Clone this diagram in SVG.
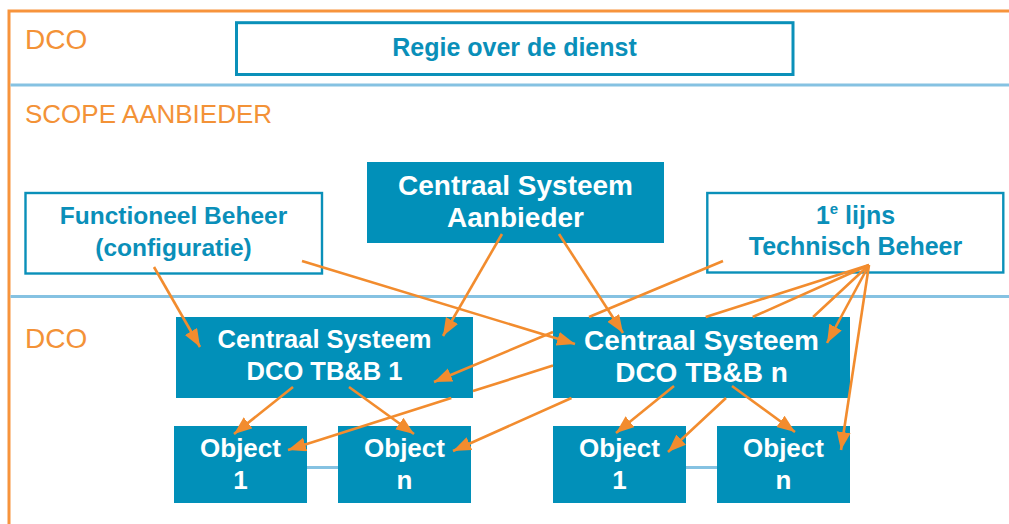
<svg xmlns="http://www.w3.org/2000/svg" width="1009" height="524" viewBox="0 0 1009 524">
<defs>
<style>
.frame{stroke:#f7943c;stroke-width:3;fill:none}
.sep{stroke:#85c2e2;stroke-width:3;fill:none}
.lbl{font-family:"Liberation Sans",Arial,sans-serif;fill:#f39237}
.obox{fill:#fff;stroke:#0a90b9}
.fbox{fill:#0190b9}
.bt{font-family:"Liberation Sans",Arial,sans-serif;font-weight:bold;fill:#0a8fb9;text-anchor:middle}
.wt{font-family:"Liberation Sans",Arial,sans-serif;font-weight:bold;fill:#fff;text-anchor:middle}
.arr{stroke:#f28c2e;stroke-width:2.6;fill:none;marker-end:url(#ah)}
.link{stroke:#85c2e2;stroke-width:3;fill:none}
</style>
<marker id="ah" markerUnits="userSpaceOnUse" markerWidth="20" markerHeight="16" refX="18" refY="7" orient="auto">
<path d="M0,0 L18,7 L0,14 z" fill="#f28c2e"/>
</marker>
</defs>
<rect width="1009" height="524" fill="#fff"/>
<g id="frame">
<path class="frame" d="M9,524 V11 H1009"/>
<path class="sep" d="M10.5,85 H1009"/>
<path class="sep" d="M10.5,296.5 H1009"/>
<text class="lbl" x="25" y="49" font-size="28">DCO</text>
<text class="lbl" x="25" y="123" font-size="26">SCOPE AANBIEDER</text>
<text class="lbl" x="25" y="348" font-size="28">DCO</text>
</g>
<g id="regie">
<rect class="obox" x="236.5" y="22.7" width="556.5" height="51.8" stroke-width="3"/>
<text class="bt" x="514.5" y="56" font-size="25">Regie over de dienst</text>
</g>
<g id="functioneel">
<rect class="obox" x="25.5" y="193" width="296.5" height="80.5" stroke-width="2.4"/>
<text class="bt" x="173.5" y="224" font-size="24.5">Functioneel Beheer</text>
<text class="bt" x="173.5" y="256" font-size="24.5">(configuratie)</text>
</g>
<g id="aanbieder">
<rect class="fbox" x="367" y="162" width="297" height="81"/>
<text class="wt" x="515.5" y="195" font-size="28">Centraal Systeem</text>
<text class="wt" x="515.5" y="227" font-size="28">Aanbieder</text>
</g>
<g id="technisch">
<rect class="obox" x="707.3" y="193" width="296" height="79.5" stroke-width="2.4"/>
<text class="bt" x="855.5" y="224" font-size="25">1<tspan font-size="15" dy="-10">e</tspan><tspan dy="10"> lijns</tspan></text>
<text class="bt" x="855.5" y="255" font-size="25">Technisch Beheer</text>
</g>
<g id="dco1">
<rect class="fbox" x="176" y="317" width="297" height="81"/>
<text class="wt" x="324.5" y="348" font-size="25.5">Centraal Systeem</text>
<text class="wt" x="324.5" y="380" font-size="25.5">DCO TB&amp;B 1</text>
</g>
<g id="dcon">
<rect class="fbox" x="553" y="317" width="297" height="81"/>
<text class="wt" x="701.5" y="350" font-size="28">Centraal Systeem</text>
<text class="wt" x="701.5" y="382" font-size="28">DCO TB&amp;B n</text>
</g>
<g id="obj1a">
<rect class="fbox" x="174" y="426" width="133" height="77"/>
<text class="wt" x="240.5" y="457" font-size="26">Object</text>
<text class="wt" x="240.5" y="489" font-size="26">1</text>
</g>
<g id="objna">
<rect class="fbox" x="338" y="426" width="133" height="77"/>
<text class="wt" x="404.5" y="457" font-size="26">Object</text>
<text class="wt" x="404.5" y="489" font-size="26">n</text>
</g>
<g id="obj1b">
<rect class="fbox" x="553" y="426" width="133" height="77"/>
<text class="wt" x="619.5" y="457" font-size="26">Object</text>
<text class="wt" x="619.5" y="489" font-size="26">1</text>
</g>
<g id="objnb">
<rect class="fbox" x="717" y="426" width="133" height="77"/>
<text class="wt" x="783.5" y="457" font-size="26">Object</text>
<text class="wt" x="783.5" y="489" font-size="26">n</text>
</g>
<g id="connectors">
<path class="link" d="M307,467.5 H338"/>
<path class="link" d="M686,467.5 H717"/>
<path class="arr" d="M154,267 L200,347"/>
<path class="arr" d="M302,261 L575,344"/>
<path class="arr" d="M502,234 L443,336"/>
<path class="arr" d="M559,234 L623,333"/>
<path class="arr" d="M723,261 L589,317 M553,332 L434,382"/>
<path class="arr" d="M869,265 L705.7,317 M553,365.6 L473,391.1 M451.3,398 L288,450"/>
<path class="arr" d="M869,265 L752.7,317 M571.5,398 L453,451"/>
<path class="arr" d="M869,265 L813.1,317 M726,398 L668,452"/>
<path class="arr" d="M869,265 L827,343"/>
<path class="arr" d="M869,265 L841,450"/>
<path class="arr" d="M293,387 L234,434"/>
<path class="arr" d="M349,387 L414,434"/>
<path class="arr" d="M674,386 L616,433"/>
<path class="arr" d="M732,386 L795,432"/>
</g>
</svg>
